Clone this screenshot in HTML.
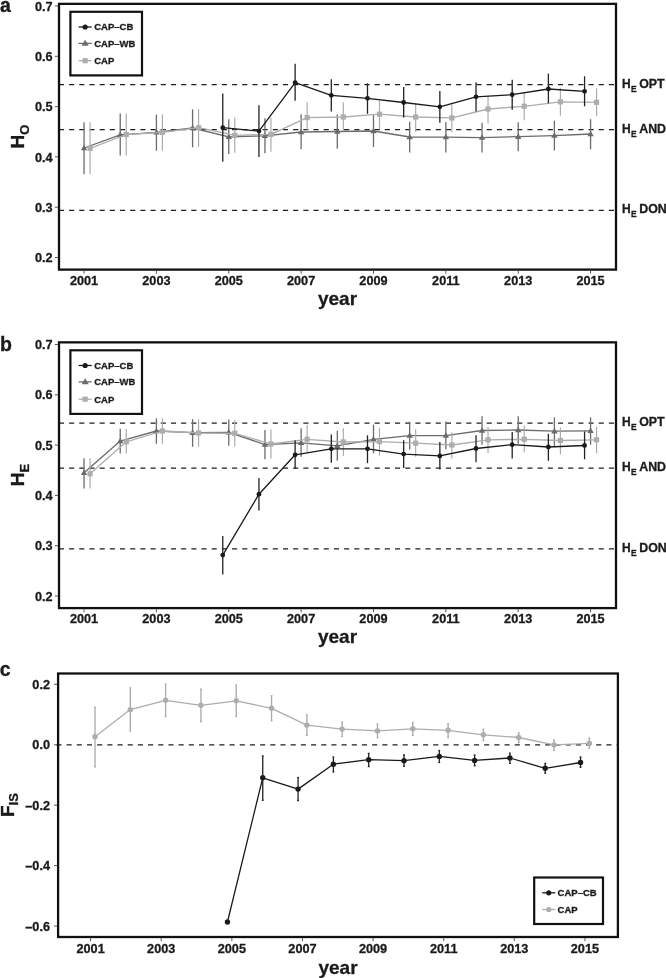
<!DOCTYPE html><html><head><meta charset="utf-8"><title>Heterozygosity chart</title><style>html,body{margin:0;padding:0;background:#fff;}svg{display:block;will-change:transform;}text{stroke:#1a1a1a;stroke-width:0.3px;}</style></head><body>
<svg width="666" height="978" viewBox="0 0 666 978" font-family='"Liberation Sans", sans-serif'>
<rect width="666" height="978" fill="#fff"/>
<line x1="58.9" y1="84.7" x2="615" y2="84.7" stroke="#1f1f1f" stroke-width="1.3" stroke-dasharray="5.1,5.085"/>
<line x1="58.9" y1="129.6" x2="615" y2="129.6" stroke="#1f1f1f" stroke-width="1.3" stroke-dasharray="5.1,5.085"/>
<line x1="58.9" y1="210.4" x2="615" y2="210.4" stroke="#1f1f1f" stroke-width="1.3" stroke-dasharray="5.1,5.085"/>
<line x1="84.05" y1="122.2" x2="84.05" y2="174.3" stroke="#6b6b6b" stroke-width="1.3"/>
<line x1="120.23" y1="113.5" x2="120.23" y2="155.6" stroke="#6b6b6b" stroke-width="1.3"/>
<line x1="156.41" y1="114.6" x2="156.41" y2="150.7" stroke="#6b6b6b" stroke-width="1.3"/>
<line x1="192.59" y1="109.3" x2="192.59" y2="147.3" stroke="#6b6b6b" stroke-width="1.3"/>
<line x1="228.77" y1="119.3" x2="228.77" y2="153.9" stroke="#6b6b6b" stroke-width="1.3"/>
<line x1="264.95" y1="118.3" x2="264.95" y2="153.3" stroke="#6b6b6b" stroke-width="1.3"/>
<line x1="301.13" y1="114.3" x2="301.13" y2="149.2" stroke="#6b6b6b" stroke-width="1.3"/>
<line x1="337.31" y1="114.6" x2="337.31" y2="148.7" stroke="#6b6b6b" stroke-width="1.3"/>
<line x1="373.49" y1="115.2" x2="373.49" y2="146.9" stroke="#6b6b6b" stroke-width="1.3"/>
<line x1="409.67" y1="121.7" x2="409.67" y2="152.5" stroke="#6b6b6b" stroke-width="1.3"/>
<line x1="445.85" y1="122" x2="445.85" y2="152.5" stroke="#6b6b6b" stroke-width="1.3"/>
<line x1="482.03" y1="122.8" x2="482.03" y2="152.5" stroke="#6b6b6b" stroke-width="1.3"/>
<line x1="518.21" y1="122.2" x2="518.21" y2="151.3" stroke="#6b6b6b" stroke-width="1.3"/>
<line x1="554.39" y1="120.8" x2="554.39" y2="150.5" stroke="#6b6b6b" stroke-width="1.3"/>
<line x1="590.57" y1="119.2" x2="590.57" y2="149.3" stroke="#6b6b6b" stroke-width="1.3"/>
<path d="M84.05,148 L120.23,134.8 L156.41,132.3 L192.59,128 L228.77,136.8 L264.95,135.9 L301.13,132 L337.31,131.5 L373.49,131 L409.67,137 L445.85,137.1 L482.03,137.6 L518.21,136.7 L554.39,135.6 L590.57,134" fill="none" stroke="#6b6b6b" stroke-width="1.3" stroke-linejoin="round"/>
<path d="M84.05,144.66 L87.24,150.18 L80.86,150.18 Z" fill="#6b6b6b"/>
<path d="M120.23,131.47 L123.42,136.98 L117.04,136.98 Z" fill="#6b6b6b"/>
<path d="M156.41,128.97 L159.6,134.48 L153.22,134.48 Z" fill="#6b6b6b"/>
<path d="M192.59,124.67 L195.78,130.18 L189.4,130.18 Z" fill="#6b6b6b"/>
<path d="M228.77,133.47 L231.96,138.98 L225.58,138.98 Z" fill="#6b6b6b"/>
<path d="M264.95,132.56 L268.14,138.08 L261.76,138.08 Z" fill="#6b6b6b"/>
<path d="M301.13,128.66 L304.32,134.18 L297.94,134.18 Z" fill="#6b6b6b"/>
<path d="M337.31,128.16 L340.5,133.68 L334.12,133.68 Z" fill="#6b6b6b"/>
<path d="M373.49,127.67 L376.68,133.18 L370.3,133.18 Z" fill="#6b6b6b"/>
<path d="M409.67,133.66 L412.86,139.18 L406.48,139.18 Z" fill="#6b6b6b"/>
<path d="M445.85,133.76 L449.04,139.28 L442.66,139.28 Z" fill="#6b6b6b"/>
<path d="M482.03,134.26 L485.22,139.78 L478.84,139.78 Z" fill="#6b6b6b"/>
<path d="M518.21,133.36 L521.4,138.88 L515.02,138.88 Z" fill="#6b6b6b"/>
<path d="M554.39,132.26 L557.58,137.78 L551.2,137.78 Z" fill="#6b6b6b"/>
<path d="M590.57,130.66 L593.76,136.18 L587.38,136.18 Z" fill="#6b6b6b"/>
<line x1="90.05" y1="122.2" x2="90.05" y2="174.3" stroke="#a9a9a9" stroke-width="1.15"/>
<line x1="126.23" y1="113.5" x2="126.23" y2="155.6" stroke="#a9a9a9" stroke-width="1.15"/>
<line x1="162.41" y1="114.6" x2="162.41" y2="150.7" stroke="#a9a9a9" stroke-width="1.15"/>
<line x1="198.59" y1="109.3" x2="198.59" y2="146.8" stroke="#a9a9a9" stroke-width="1.15"/>
<line x1="234.77" y1="117.5" x2="234.77" y2="152.8" stroke="#a9a9a9" stroke-width="1.15"/>
<line x1="270.95" y1="117.8" x2="270.95" y2="151.8" stroke="#a9a9a9" stroke-width="1.15"/>
<line x1="307.13" y1="102.3" x2="307.13" y2="132.3" stroke="#a9a9a9" stroke-width="1.15"/>
<line x1="343.31" y1="102.2" x2="343.31" y2="131.2" stroke="#a9a9a9" stroke-width="1.15"/>
<line x1="379.49" y1="100.8" x2="379.49" y2="129" stroke="#a9a9a9" stroke-width="1.15"/>
<line x1="415.67" y1="103.5" x2="415.67" y2="131.8" stroke="#a9a9a9" stroke-width="1.15"/>
<line x1="451.85" y1="104.4" x2="451.85" y2="132.6" stroke="#a9a9a9" stroke-width="1.15"/>
<line x1="488.03" y1="95.8" x2="488.03" y2="123.6" stroke="#a9a9a9" stroke-width="1.15"/>
<line x1="524.21" y1="92.8" x2="524.21" y2="120.3" stroke="#a9a9a9" stroke-width="1.15"/>
<line x1="560.39" y1="87.8" x2="560.39" y2="115.8" stroke="#a9a9a9" stroke-width="1.15"/>
<line x1="596.57" y1="88.3" x2="596.57" y2="116.1" stroke="#a9a9a9" stroke-width="1.15"/>
<path d="M90.05,148.3 L126.23,134.5 L162.41,132.3 L198.59,127.7 L234.77,135.3 L270.95,134.4 L307.13,117.6 L343.31,117 L379.49,114.2 L415.67,117 L451.85,117.9 L488.03,109 L524.21,106.3 L560.39,101.8 L596.57,102.3" fill="none" stroke="#adadad" stroke-width="1.3" stroke-linejoin="round"/>
<rect x="87.45" y="145.7" width="5.2" height="5.2" fill="#adadad"/>
<rect x="123.63" y="131.9" width="5.2" height="5.2" fill="#adadad"/>
<rect x="159.81" y="129.7" width="5.2" height="5.2" fill="#adadad"/>
<rect x="195.99" y="125.1" width="5.2" height="5.2" fill="#adadad"/>
<rect x="232.17" y="132.7" width="5.2" height="5.2" fill="#adadad"/>
<rect x="268.35" y="131.8" width="5.2" height="5.2" fill="#adadad"/>
<rect x="304.53" y="115" width="5.2" height="5.2" fill="#adadad"/>
<rect x="340.71" y="114.4" width="5.2" height="5.2" fill="#adadad"/>
<rect x="376.89" y="111.6" width="5.2" height="5.2" fill="#adadad"/>
<rect x="413.07" y="114.4" width="5.2" height="5.2" fill="#adadad"/>
<rect x="449.25" y="115.3" width="5.2" height="5.2" fill="#adadad"/>
<rect x="485.43" y="106.4" width="5.2" height="5.2" fill="#adadad"/>
<rect x="521.61" y="103.7" width="5.2" height="5.2" fill="#adadad"/>
<rect x="557.79" y="99.2" width="5.2" height="5.2" fill="#adadad"/>
<rect x="593.97" y="99.7" width="5.2" height="5.2" fill="#adadad"/>
<line x1="222.77" y1="93.5" x2="222.77" y2="161.8" stroke="#222222" stroke-width="1.3"/>
<line x1="258.95" y1="105.3" x2="258.95" y2="157" stroke="#222222" stroke-width="1.3"/>
<line x1="295.13" y1="63.8" x2="295.13" y2="100.8" stroke="#222222" stroke-width="1.3"/>
<line x1="331.31" y1="79.3" x2="331.31" y2="111.6" stroke="#222222" stroke-width="1.3"/>
<line x1="367.49" y1="83.3" x2="367.49" y2="113.8" stroke="#222222" stroke-width="1.3"/>
<line x1="403.67" y1="87" x2="403.67" y2="117.5" stroke="#222222" stroke-width="1.3"/>
<line x1="439.85" y1="90.9" x2="439.85" y2="122.8" stroke="#222222" stroke-width="1.3"/>
<line x1="476.03" y1="82.3" x2="476.03" y2="111.6" stroke="#222222" stroke-width="1.3"/>
<line x1="512.21" y1="79.7" x2="512.21" y2="109.8" stroke="#222222" stroke-width="1.3"/>
<line x1="548.39" y1="73.7" x2="548.39" y2="103.3" stroke="#222222" stroke-width="1.3"/>
<line x1="584.57" y1="76.3" x2="584.57" y2="106.3" stroke="#222222" stroke-width="1.3"/>
<path d="M222.77,127.7 L258.95,131.1 L295.13,82.6 L331.31,95.3 L367.49,98.3 L403.67,102.5 L439.85,106.8 L476.03,96.8 L512.21,94.7 L548.39,89 L584.57,91.3" fill="none" stroke="#1a1a1a" stroke-width="1.3" stroke-linejoin="round"/>
<circle cx="222.77" cy="127.7" r="2.4" fill="#1a1a1a"/>
<circle cx="258.95" cy="131.1" r="2.4" fill="#1a1a1a"/>
<circle cx="295.13" cy="82.6" r="2.4" fill="#1a1a1a"/>
<circle cx="331.31" cy="95.3" r="2.4" fill="#1a1a1a"/>
<circle cx="367.49" cy="98.3" r="2.4" fill="#1a1a1a"/>
<circle cx="403.67" cy="102.5" r="2.4" fill="#1a1a1a"/>
<circle cx="439.85" cy="106.8" r="2.4" fill="#1a1a1a"/>
<circle cx="476.03" cy="96.8" r="2.4" fill="#1a1a1a"/>
<circle cx="512.21" cy="94.7" r="2.4" fill="#1a1a1a"/>
<circle cx="548.39" cy="89" r="2.4" fill="#1a1a1a"/>
<circle cx="584.57" cy="91.3" r="2.4" fill="#1a1a1a"/>
<rect x="70.4" y="11.8" width="71.6" height="63.6" fill="none" stroke="#111" stroke-width="2.2"/>
<line x1="78.6" y1="27" x2="91.7" y2="27" stroke="#1a1a1a" stroke-width="1.3"/>
<circle cx="85.15" cy="27" r="2.6" fill="#1a1a1a"/>
<text x="94.2" y="30.3" font-size="9.5" font-weight="bold" text-anchor="start" fill="#1a1a1a" >CAP–CB</text>
<line x1="78.6" y1="43.4" x2="91.7" y2="43.4" stroke="#6b6b6b" stroke-width="1.3"/>
<path d="M85.15,39.72 L88.67,45.8 L81.63,45.8 Z" fill="#6b6b6b"/>
<text x="94.2" y="46.7" font-size="9.5" font-weight="bold" text-anchor="start" fill="#1a1a1a" >CAP–WB</text>
<line x1="78.6" y1="60.7" x2="91.7" y2="60.7" stroke="#adadad" stroke-width="1.3"/>
<rect x="82.55" y="58.1" width="5.2" height="5.2" fill="#adadad"/>
<text x="94.2" y="64" font-size="9.5" font-weight="bold" text-anchor="start" fill="#1a1a1a" >CAP</text>
<rect x="59" y="3.85" width="557" height="265.75" fill="none" stroke="#111" stroke-width="2.3"/>
<line x1="54.9" y1="6" x2="57.9" y2="6" stroke="#555" stroke-width="1"/>
<text x="52.6" y="10.6" font-size="12.7" font-weight="bold" text-anchor="end" fill="#1a1a1a" >0.7</text>
<line x1="54.9" y1="56.3" x2="57.9" y2="56.3" stroke="#555" stroke-width="1"/>
<text x="52.6" y="60.9" font-size="12.7" font-weight="bold" text-anchor="end" fill="#1a1a1a" >0.6</text>
<line x1="54.9" y1="106.6" x2="57.9" y2="106.6" stroke="#555" stroke-width="1"/>
<text x="52.6" y="111.2" font-size="12.7" font-weight="bold" text-anchor="end" fill="#1a1a1a" >0.5</text>
<line x1="54.9" y1="156.9" x2="57.9" y2="156.9" stroke="#555" stroke-width="1"/>
<text x="52.6" y="161.5" font-size="12.7" font-weight="bold" text-anchor="end" fill="#1a1a1a" >0.4</text>
<line x1="54.9" y1="207.2" x2="57.9" y2="207.2" stroke="#555" stroke-width="1"/>
<text x="52.6" y="211.8" font-size="12.7" font-weight="bold" text-anchor="end" fill="#1a1a1a" >0.3</text>
<line x1="54.9" y1="257.5" x2="57.9" y2="257.5" stroke="#555" stroke-width="1"/>
<text x="52.6" y="262.1" font-size="12.7" font-weight="bold" text-anchor="end" fill="#1a1a1a" >0.2</text>
<line x1="84.05" y1="270.7" x2="84.05" y2="273.7" stroke="#555" stroke-width="1"/>
<text x="84.05" y="284.8" font-size="12.7" font-weight="bold" text-anchor="middle" fill="#1a1a1a" >2001</text>
<line x1="156.41" y1="270.7" x2="156.41" y2="273.7" stroke="#555" stroke-width="1"/>
<text x="156.41" y="284.8" font-size="12.7" font-weight="bold" text-anchor="middle" fill="#1a1a1a" >2003</text>
<line x1="228.77" y1="270.7" x2="228.77" y2="273.7" stroke="#555" stroke-width="1"/>
<text x="228.77" y="284.8" font-size="12.7" font-weight="bold" text-anchor="middle" fill="#1a1a1a" >2005</text>
<line x1="301.13" y1="270.7" x2="301.13" y2="273.7" stroke="#555" stroke-width="1"/>
<text x="301.13" y="284.8" font-size="12.7" font-weight="bold" text-anchor="middle" fill="#1a1a1a" >2007</text>
<line x1="373.49" y1="270.7" x2="373.49" y2="273.7" stroke="#555" stroke-width="1"/>
<text x="373.49" y="284.8" font-size="12.7" font-weight="bold" text-anchor="middle" fill="#1a1a1a" >2009</text>
<line x1="445.85" y1="270.7" x2="445.85" y2="273.7" stroke="#555" stroke-width="1"/>
<text x="445.85" y="284.8" font-size="12.7" font-weight="bold" text-anchor="middle" fill="#1a1a1a" >2011</text>
<line x1="518.21" y1="270.7" x2="518.21" y2="273.7" stroke="#555" stroke-width="1"/>
<text x="518.21" y="284.8" font-size="12.7" font-weight="bold" text-anchor="middle" fill="#1a1a1a" >2013</text>
<line x1="590.57" y1="270.7" x2="590.57" y2="273.7" stroke="#555" stroke-width="1"/>
<text x="590.57" y="284.8" font-size="12.7" font-weight="bold" text-anchor="middle" fill="#1a1a1a" >2015</text>
<text x="337.5" y="304.8" font-size="19" font-weight="bold" text-anchor="middle" fill="#1a1a1a" >year</text>
<text x="622.0" y="87.7" font-size="12" font-weight="bold" fill="#1a1a1a">H</text>
<text x="630.9" y="91.9" font-size="8.4" font-weight="bold" fill="#1a1a1a">E</text>
<text x="639.2" y="87.7" font-size="12.4" font-weight="bold" fill="#1a1a1a">OPT</text>
<text x="622.0" y="132.7" font-size="12" font-weight="bold" fill="#1a1a1a">H</text>
<text x="630.9" y="136.9" font-size="8.4" font-weight="bold" fill="#1a1a1a">E</text>
<text x="639.2" y="132.7" font-size="12.4" font-weight="bold" fill="#1a1a1a">AND</text>
<text x="622.0" y="213.2" font-size="12" font-weight="bold" fill="#1a1a1a">H</text>
<text x="630.9" y="217.4" font-size="8.4" font-weight="bold" fill="#1a1a1a">E</text>
<text x="639.2" y="213.2" font-size="12.4" font-weight="bold" fill="#1a1a1a">DON</text>
<text transform="translate(24.4,136.6) rotate(-90)" font-size="19" font-weight="bold" text-anchor="middle" fill="#1a1a1a">H<tspan font-size="13" dy="4.4">O</tspan></text>
<line x1="58.9" y1="423.2" x2="615" y2="423.2" stroke="#1f1f1f" stroke-width="1.3" stroke-dasharray="5.1,5.085"/>
<line x1="58.9" y1="468.1" x2="615" y2="468.1" stroke="#1f1f1f" stroke-width="1.3" stroke-dasharray="5.1,5.085"/>
<line x1="58.9" y1="548.9" x2="615" y2="548.9" stroke="#1f1f1f" stroke-width="1.3" stroke-dasharray="5.1,5.085"/>
<line x1="84.05" y1="458.3" x2="84.05" y2="488.4" stroke="#6b6b6b" stroke-width="1.3"/>
<line x1="120.23" y1="428.8" x2="120.23" y2="453.5" stroke="#6b6b6b" stroke-width="1.3"/>
<line x1="156.41" y1="418.3" x2="156.41" y2="443.8" stroke="#6b6b6b" stroke-width="1.3"/>
<line x1="192.59" y1="419.2" x2="192.59" y2="446.8" stroke="#6b6b6b" stroke-width="1.3"/>
<line x1="228.77" y1="419.5" x2="228.77" y2="445.8" stroke="#6b6b6b" stroke-width="1.3"/>
<line x1="264.95" y1="430" x2="264.95" y2="459.3" stroke="#6b6b6b" stroke-width="1.3"/>
<line x1="301.13" y1="428.2" x2="301.13" y2="456.8" stroke="#6b6b6b" stroke-width="1.3"/>
<line x1="337.31" y1="430.8" x2="337.31" y2="460.8" stroke="#6b6b6b" stroke-width="1.3"/>
<line x1="373.49" y1="424.8" x2="373.49" y2="453.3" stroke="#6b6b6b" stroke-width="1.3"/>
<line x1="409.67" y1="421.8" x2="409.67" y2="449.5" stroke="#6b6b6b" stroke-width="1.3"/>
<line x1="445.85" y1="421.5" x2="445.85" y2="449.2" stroke="#6b6b6b" stroke-width="1.3"/>
<line x1="482.03" y1="416.2" x2="482.03" y2="444.7" stroke="#6b6b6b" stroke-width="1.3"/>
<line x1="518.21" y1="416.2" x2="518.21" y2="443.8" stroke="#6b6b6b" stroke-width="1.3"/>
<line x1="554.39" y1="417.3" x2="554.39" y2="445.8" stroke="#6b6b6b" stroke-width="1.3"/>
<line x1="590.57" y1="417.3" x2="590.57" y2="444.7" stroke="#6b6b6b" stroke-width="1.3"/>
<path d="M84.05,472.8 L120.23,441.1 L156.41,431 L192.59,432.7 L228.77,432.3 L264.95,444.6 L301.13,442.8 L337.31,445.8 L373.49,439.3 L409.67,435.6 L445.85,435.6 L482.03,430.5 L518.21,430 L554.39,431.2 L590.57,430.8" fill="none" stroke="#6b6b6b" stroke-width="1.3" stroke-linejoin="round"/>
<path d="M84.05,469.47 L87.24,474.98 L80.86,474.98 Z" fill="#6b6b6b"/>
<path d="M120.23,437.77 L123.42,443.28 L117.04,443.28 Z" fill="#6b6b6b"/>
<path d="M156.41,427.67 L159.6,433.18 L153.22,433.18 Z" fill="#6b6b6b"/>
<path d="M192.59,429.37 L195.78,434.88 L189.4,434.88 Z" fill="#6b6b6b"/>
<path d="M228.77,428.97 L231.96,434.48 L225.58,434.48 Z" fill="#6b6b6b"/>
<path d="M264.95,441.27 L268.14,446.78 L261.76,446.78 Z" fill="#6b6b6b"/>
<path d="M301.13,439.47 L304.32,444.98 L297.94,444.98 Z" fill="#6b6b6b"/>
<path d="M337.31,442.47 L340.5,447.98 L334.12,447.98 Z" fill="#6b6b6b"/>
<path d="M373.49,435.97 L376.68,441.48 L370.3,441.48 Z" fill="#6b6b6b"/>
<path d="M409.67,432.27 L412.86,437.78 L406.48,437.78 Z" fill="#6b6b6b"/>
<path d="M445.85,432.27 L449.04,437.78 L442.66,437.78 Z" fill="#6b6b6b"/>
<path d="M482.03,427.17 L485.22,432.68 L478.84,432.68 Z" fill="#6b6b6b"/>
<path d="M518.21,426.67 L521.4,432.18 L515.02,432.18 Z" fill="#6b6b6b"/>
<path d="M554.39,427.87 L557.58,433.38 L551.2,433.38 Z" fill="#6b6b6b"/>
<path d="M590.57,427.47 L593.76,432.98 L587.38,432.98 Z" fill="#6b6b6b"/>
<line x1="90.05" y1="458.3" x2="90.05" y2="488.4" stroke="#a9a9a9" stroke-width="1.15"/>
<line x1="126.23" y1="428.8" x2="126.23" y2="453.5" stroke="#a9a9a9" stroke-width="1.15"/>
<line x1="162.41" y1="418.3" x2="162.41" y2="443.8" stroke="#a9a9a9" stroke-width="1.15"/>
<line x1="198.59" y1="419.2" x2="198.59" y2="446.8" stroke="#a9a9a9" stroke-width="1.15"/>
<line x1="234.77" y1="420.3" x2="234.77" y2="446.5" stroke="#a9a9a9" stroke-width="1.15"/>
<line x1="270.95" y1="429.6" x2="270.95" y2="458.6" stroke="#a9a9a9" stroke-width="1.15"/>
<line x1="307.13" y1="424.8" x2="307.13" y2="452.6" stroke="#a9a9a9" stroke-width="1.15"/>
<line x1="343.31" y1="428.2" x2="343.31" y2="455.9" stroke="#a9a9a9" stroke-width="1.15"/>
<line x1="379.49" y1="427.8" x2="379.49" y2="455.6" stroke="#a9a9a9" stroke-width="1.15"/>
<line x1="415.67" y1="429.3" x2="415.67" y2="456.8" stroke="#a9a9a9" stroke-width="1.15"/>
<line x1="451.85" y1="432.3" x2="451.85" y2="458.6" stroke="#a9a9a9" stroke-width="1.15"/>
<line x1="488.03" y1="427" x2="488.03" y2="452.9" stroke="#a9a9a9" stroke-width="1.15"/>
<line x1="524.21" y1="425.5" x2="524.21" y2="452.6" stroke="#a9a9a9" stroke-width="1.15"/>
<line x1="560.39" y1="427.5" x2="560.39" y2="454.4" stroke="#a9a9a9" stroke-width="1.15"/>
<line x1="596.57" y1="426.7" x2="596.57" y2="453.3" stroke="#a9a9a9" stroke-width="1.15"/>
<path d="M90.05,473.8 L126.23,441.8 L162.41,431 L198.59,433 L234.77,433.3 L270.95,444 L307.13,439.3 L343.31,442 L379.49,441.6 L415.67,443.2 L451.85,445 L488.03,439.8 L524.21,439.3 L560.39,440.5 L596.57,439.8" fill="none" stroke="#adadad" stroke-width="1.3" stroke-linejoin="round"/>
<rect x="87.45" y="471.2" width="5.2" height="5.2" fill="#adadad"/>
<rect x="123.63" y="439.2" width="5.2" height="5.2" fill="#adadad"/>
<rect x="159.81" y="428.4" width="5.2" height="5.2" fill="#adadad"/>
<rect x="195.99" y="430.4" width="5.2" height="5.2" fill="#adadad"/>
<rect x="232.17" y="430.7" width="5.2" height="5.2" fill="#adadad"/>
<rect x="268.35" y="441.4" width="5.2" height="5.2" fill="#adadad"/>
<rect x="304.53" y="436.7" width="5.2" height="5.2" fill="#adadad"/>
<rect x="340.71" y="439.4" width="5.2" height="5.2" fill="#adadad"/>
<rect x="376.89" y="439" width="5.2" height="5.2" fill="#adadad"/>
<rect x="413.07" y="440.6" width="5.2" height="5.2" fill="#adadad"/>
<rect x="449.25" y="442.4" width="5.2" height="5.2" fill="#adadad"/>
<rect x="485.43" y="437.2" width="5.2" height="5.2" fill="#adadad"/>
<rect x="521.61" y="436.7" width="5.2" height="5.2" fill="#adadad"/>
<rect x="557.79" y="437.9" width="5.2" height="5.2" fill="#adadad"/>
<rect x="593.97" y="437.2" width="5.2" height="5.2" fill="#adadad"/>
<line x1="222.77" y1="536" x2="222.77" y2="574.4" stroke="#222222" stroke-width="1.3"/>
<line x1="258.95" y1="478" x2="258.95" y2="510.5" stroke="#222222" stroke-width="1.3"/>
<line x1="295.13" y1="440.2" x2="295.13" y2="468.8" stroke="#222222" stroke-width="1.3"/>
<line x1="331.31" y1="434.5" x2="331.31" y2="462.8" stroke="#222222" stroke-width="1.3"/>
<line x1="367.49" y1="435.3" x2="367.49" y2="463.1" stroke="#222222" stroke-width="1.3"/>
<line x1="403.67" y1="440.2" x2="403.67" y2="467.9" stroke="#222222" stroke-width="1.3"/>
<line x1="439.85" y1="442" x2="439.85" y2="469.4" stroke="#222222" stroke-width="1.3"/>
<line x1="476.03" y1="435.3" x2="476.03" y2="462.3" stroke="#222222" stroke-width="1.3"/>
<line x1="512.21" y1="432" x2="512.21" y2="458.6" stroke="#222222" stroke-width="1.3"/>
<line x1="548.39" y1="433.8" x2="548.39" y2="460.8" stroke="#222222" stroke-width="1.3"/>
<line x1="584.57" y1="431.5" x2="584.57" y2="459.3" stroke="#222222" stroke-width="1.3"/>
<path d="M222.77,555.1 L258.95,494.2 L295.13,454.8 L331.31,448.8 L367.49,448.8 L403.67,454.1 L439.85,455.9 L476.03,448.5 L512.21,444.7 L548.39,447 L584.57,445.5" fill="none" stroke="#1a1a1a" stroke-width="1.3" stroke-linejoin="round"/>
<circle cx="222.77" cy="555.1" r="2.4" fill="#1a1a1a"/>
<circle cx="258.95" cy="494.2" r="2.4" fill="#1a1a1a"/>
<circle cx="295.13" cy="454.8" r="2.4" fill="#1a1a1a"/>
<circle cx="331.31" cy="448.8" r="2.4" fill="#1a1a1a"/>
<circle cx="367.49" cy="448.8" r="2.4" fill="#1a1a1a"/>
<circle cx="403.67" cy="454.1" r="2.4" fill="#1a1a1a"/>
<circle cx="439.85" cy="455.9" r="2.4" fill="#1a1a1a"/>
<circle cx="476.03" cy="448.5" r="2.4" fill="#1a1a1a"/>
<circle cx="512.21" cy="444.7" r="2.4" fill="#1a1a1a"/>
<circle cx="548.39" cy="447" r="2.4" fill="#1a1a1a"/>
<circle cx="584.57" cy="445.5" r="2.4" fill="#1a1a1a"/>
<rect x="70.4" y="350.3" width="71.6" height="63.6" fill="none" stroke="#111" stroke-width="2.2"/>
<line x1="78.6" y1="365.5" x2="91.7" y2="365.5" stroke="#1a1a1a" stroke-width="1.3"/>
<circle cx="85.15" cy="365.5" r="2.6" fill="#1a1a1a"/>
<text x="94.2" y="368.8" font-size="9.5" font-weight="bold" text-anchor="start" fill="#1a1a1a" >CAP–CB</text>
<line x1="78.6" y1="381.9" x2="91.7" y2="381.9" stroke="#6b6b6b" stroke-width="1.3"/>
<path d="M85.15,378.22 L88.67,384.3 L81.63,384.3 Z" fill="#6b6b6b"/>
<text x="94.2" y="385.2" font-size="9.5" font-weight="bold" text-anchor="start" fill="#1a1a1a" >CAP–WB</text>
<line x1="78.6" y1="399.2" x2="91.7" y2="399.2" stroke="#adadad" stroke-width="1.3"/>
<rect x="82.55" y="396.6" width="5.2" height="5.2" fill="#adadad"/>
<text x="94.2" y="402.5" font-size="9.5" font-weight="bold" text-anchor="start" fill="#1a1a1a" >CAP</text>
<rect x="59" y="342.35" width="557" height="265.75" fill="none" stroke="#111" stroke-width="2.3"/>
<line x1="54.9" y1="344.5" x2="57.9" y2="344.5" stroke="#555" stroke-width="1"/>
<text x="52.6" y="349.1" font-size="12.7" font-weight="bold" text-anchor="end" fill="#1a1a1a" >0.7</text>
<line x1="54.9" y1="394.8" x2="57.9" y2="394.8" stroke="#555" stroke-width="1"/>
<text x="52.6" y="399.4" font-size="12.7" font-weight="bold" text-anchor="end" fill="#1a1a1a" >0.6</text>
<line x1="54.9" y1="445.1" x2="57.9" y2="445.1" stroke="#555" stroke-width="1"/>
<text x="52.6" y="449.7" font-size="12.7" font-weight="bold" text-anchor="end" fill="#1a1a1a" >0.5</text>
<line x1="54.9" y1="495.4" x2="57.9" y2="495.4" stroke="#555" stroke-width="1"/>
<text x="52.6" y="500" font-size="12.7" font-weight="bold" text-anchor="end" fill="#1a1a1a" >0.4</text>
<line x1="54.9" y1="545.7" x2="57.9" y2="545.7" stroke="#555" stroke-width="1"/>
<text x="52.6" y="550.3" font-size="12.7" font-weight="bold" text-anchor="end" fill="#1a1a1a" >0.3</text>
<line x1="54.9" y1="596" x2="57.9" y2="596" stroke="#555" stroke-width="1"/>
<text x="52.6" y="600.6" font-size="12.7" font-weight="bold" text-anchor="end" fill="#1a1a1a" >0.2</text>
<line x1="84.05" y1="609.2" x2="84.05" y2="612.2" stroke="#555" stroke-width="1"/>
<text x="84.05" y="623.3" font-size="12.7" font-weight="bold" text-anchor="middle" fill="#1a1a1a" >2001</text>
<line x1="156.41" y1="609.2" x2="156.41" y2="612.2" stroke="#555" stroke-width="1"/>
<text x="156.41" y="623.3" font-size="12.7" font-weight="bold" text-anchor="middle" fill="#1a1a1a" >2003</text>
<line x1="228.77" y1="609.2" x2="228.77" y2="612.2" stroke="#555" stroke-width="1"/>
<text x="228.77" y="623.3" font-size="12.7" font-weight="bold" text-anchor="middle" fill="#1a1a1a" >2005</text>
<line x1="301.13" y1="609.2" x2="301.13" y2="612.2" stroke="#555" stroke-width="1"/>
<text x="301.13" y="623.3" font-size="12.7" font-weight="bold" text-anchor="middle" fill="#1a1a1a" >2007</text>
<line x1="373.49" y1="609.2" x2="373.49" y2="612.2" stroke="#555" stroke-width="1"/>
<text x="373.49" y="623.3" font-size="12.7" font-weight="bold" text-anchor="middle" fill="#1a1a1a" >2009</text>
<line x1="445.85" y1="609.2" x2="445.85" y2="612.2" stroke="#555" stroke-width="1"/>
<text x="445.85" y="623.3" font-size="12.7" font-weight="bold" text-anchor="middle" fill="#1a1a1a" >2011</text>
<line x1="518.21" y1="609.2" x2="518.21" y2="612.2" stroke="#555" stroke-width="1"/>
<text x="518.21" y="623.3" font-size="12.7" font-weight="bold" text-anchor="middle" fill="#1a1a1a" >2013</text>
<line x1="590.57" y1="609.2" x2="590.57" y2="612.2" stroke="#555" stroke-width="1"/>
<text x="590.57" y="623.3" font-size="12.7" font-weight="bold" text-anchor="middle" fill="#1a1a1a" >2015</text>
<text x="337.5" y="643.3" font-size="19" font-weight="bold" text-anchor="middle" fill="#1a1a1a" >year</text>
<text x="622.0" y="426.2" font-size="12" font-weight="bold" fill="#1a1a1a">H</text>
<text x="630.9" y="430.4" font-size="8.4" font-weight="bold" fill="#1a1a1a">E</text>
<text x="639.2" y="426.2" font-size="12.4" font-weight="bold" fill="#1a1a1a">OPT</text>
<text x="622.0" y="471.2" font-size="12" font-weight="bold" fill="#1a1a1a">H</text>
<text x="630.9" y="475.4" font-size="8.4" font-weight="bold" fill="#1a1a1a">E</text>
<text x="639.2" y="471.2" font-size="12.4" font-weight="bold" fill="#1a1a1a">AND</text>
<text x="622.0" y="551.7" font-size="12" font-weight="bold" fill="#1a1a1a">H</text>
<text x="630.9" y="555.9" font-size="8.4" font-weight="bold" fill="#1a1a1a">E</text>
<text x="639.2" y="551.7" font-size="12.4" font-weight="bold" fill="#1a1a1a">DON</text>
<text transform="translate(24.4,475.1) rotate(-90)" font-size="19" font-weight="bold" text-anchor="middle" fill="#1a1a1a">H<tspan font-size="13" dy="4.4">E</tspan></text>
<text x="0" y="11.5" font-size="19.5" font-weight="bold" text-anchor="start" fill="#1a1a1a" >a</text>
<text x="0" y="350.8" font-size="19.5" font-weight="bold" text-anchor="start" fill="#1a1a1a" >b</text>
<text x="-0.3" y="675.7" font-size="19.5" font-weight="bold" text-anchor="start" fill="#1a1a1a" >c</text>
<line x1="56.4" y1="744.8" x2="616.9" y2="744.8" stroke="#1f1f1f" stroke-width="1.3" stroke-dasharray="5.1,5.085"/>
<line x1="95" y1="707.3" x2="95" y2="766.8" stroke="#a9a9a9" stroke-width="1.3"/>
<line x1="94.1" y1="707.3" x2="95.9" y2="707.3" stroke="#a9a9a9" stroke-width="1.3"/>
<line x1="94.1" y1="766.8" x2="95.9" y2="766.8" stroke="#a9a9a9" stroke-width="1.3"/>
<line x1="130.31" y1="687.8" x2="130.31" y2="731" stroke="#a9a9a9" stroke-width="1.3"/>
<line x1="129.41" y1="687.8" x2="131.21" y2="687.8" stroke="#a9a9a9" stroke-width="1.3"/>
<line x1="129.41" y1="731" x2="131.21" y2="731" stroke="#a9a9a9" stroke-width="1.3"/>
<line x1="165.62" y1="684.2" x2="165.62" y2="716.5" stroke="#a9a9a9" stroke-width="1.3"/>
<line x1="164.72" y1="684.2" x2="166.52" y2="684.2" stroke="#a9a9a9" stroke-width="1.3"/>
<line x1="164.72" y1="716.5" x2="166.52" y2="716.5" stroke="#a9a9a9" stroke-width="1.3"/>
<line x1="200.93" y1="689.2" x2="200.93" y2="721.5" stroke="#a9a9a9" stroke-width="1.3"/>
<line x1="200.03" y1="689.2" x2="201.83" y2="689.2" stroke="#a9a9a9" stroke-width="1.3"/>
<line x1="200.03" y1="721.5" x2="201.83" y2="721.5" stroke="#a9a9a9" stroke-width="1.3"/>
<line x1="236.24" y1="685" x2="236.24" y2="716.5" stroke="#a9a9a9" stroke-width="1.3"/>
<line x1="235.34" y1="685" x2="237.14" y2="685" stroke="#a9a9a9" stroke-width="1.3"/>
<line x1="235.34" y1="716.5" x2="237.14" y2="716.5" stroke="#a9a9a9" stroke-width="1.3"/>
<line x1="271.55" y1="695.8" x2="271.55" y2="720.8" stroke="#a9a9a9" stroke-width="1.3"/>
<line x1="270.65" y1="695.8" x2="272.45" y2="695.8" stroke="#a9a9a9" stroke-width="1.3"/>
<line x1="270.65" y1="720.8" x2="272.45" y2="720.8" stroke="#a9a9a9" stroke-width="1.3"/>
<line x1="306.86" y1="714.9" x2="306.86" y2="735.4" stroke="#a9a9a9" stroke-width="1.3"/>
<line x1="305.96" y1="714.9" x2="307.76" y2="714.9" stroke="#a9a9a9" stroke-width="1.3"/>
<line x1="305.96" y1="735.4" x2="307.76" y2="735.4" stroke="#a9a9a9" stroke-width="1.3"/>
<line x1="342.17" y1="722.1" x2="342.17" y2="736.5" stroke="#a9a9a9" stroke-width="1.3"/>
<line x1="341.27" y1="722.1" x2="343.07" y2="722.1" stroke="#a9a9a9" stroke-width="1.3"/>
<line x1="341.27" y1="736.5" x2="343.07" y2="736.5" stroke="#a9a9a9" stroke-width="1.3"/>
<line x1="377.48" y1="723.9" x2="377.48" y2="737.7" stroke="#a9a9a9" stroke-width="1.3"/>
<line x1="376.58" y1="723.9" x2="378.38" y2="723.9" stroke="#a9a9a9" stroke-width="1.3"/>
<line x1="376.58" y1="737.7" x2="378.38" y2="737.7" stroke="#a9a9a9" stroke-width="1.3"/>
<line x1="412.79" y1="722.5" x2="412.79" y2="735.5" stroke="#a9a9a9" stroke-width="1.3"/>
<line x1="411.89" y1="722.5" x2="413.69" y2="722.5" stroke="#a9a9a9" stroke-width="1.3"/>
<line x1="411.89" y1="735.5" x2="413.69" y2="735.5" stroke="#a9a9a9" stroke-width="1.3"/>
<line x1="448.1" y1="724" x2="448.1" y2="737.5" stroke="#a9a9a9" stroke-width="1.3"/>
<line x1="447.2" y1="724" x2="449" y2="724" stroke="#a9a9a9" stroke-width="1.3"/>
<line x1="447.2" y1="737.5" x2="449" y2="737.5" stroke="#a9a9a9" stroke-width="1.3"/>
<line x1="483.41" y1="729.2" x2="483.41" y2="740.5" stroke="#a9a9a9" stroke-width="1.3"/>
<line x1="482.51" y1="729.2" x2="484.31" y2="729.2" stroke="#a9a9a9" stroke-width="1.3"/>
<line x1="482.51" y1="740.5" x2="484.31" y2="740.5" stroke="#a9a9a9" stroke-width="1.3"/>
<line x1="518.72" y1="732.8" x2="518.72" y2="742.6" stroke="#a9a9a9" stroke-width="1.3"/>
<line x1="517.82" y1="732.8" x2="519.62" y2="732.8" stroke="#a9a9a9" stroke-width="1.3"/>
<line x1="517.82" y1="742.6" x2="519.62" y2="742.6" stroke="#a9a9a9" stroke-width="1.3"/>
<line x1="554.03" y1="740" x2="554.03" y2="750.4" stroke="#a9a9a9" stroke-width="1.3"/>
<line x1="553.13" y1="740" x2="554.93" y2="740" stroke="#a9a9a9" stroke-width="1.3"/>
<line x1="553.13" y1="750.4" x2="554.93" y2="750.4" stroke="#a9a9a9" stroke-width="1.3"/>
<line x1="589.34" y1="738" x2="589.34" y2="748.4" stroke="#a9a9a9" stroke-width="1.3"/>
<line x1="588.44" y1="738" x2="590.24" y2="738" stroke="#a9a9a9" stroke-width="1.3"/>
<line x1="588.44" y1="748.4" x2="590.24" y2="748.4" stroke="#a9a9a9" stroke-width="1.3"/>
<path d="M95,736.8 L130.31,709.6 L165.62,700.3 L200.93,705.3 L236.24,700.8 L271.55,708.3 L306.86,725.1 L342.17,729.1 L377.48,730.9 L412.79,728.8 L448.1,730.3 L483.41,734.8 L518.72,737.5 L554.03,744.9 L589.34,743.3" fill="none" stroke="#adadad" stroke-width="1.3" stroke-linejoin="round"/>
<circle cx="95" cy="736.8" r="2.7" fill="#adadad"/>
<circle cx="130.31" cy="709.6" r="2.7" fill="#adadad"/>
<circle cx="165.62" cy="700.3" r="2.7" fill="#adadad"/>
<circle cx="200.93" cy="705.3" r="2.7" fill="#adadad"/>
<circle cx="236.24" cy="700.8" r="2.7" fill="#adadad"/>
<circle cx="271.55" cy="708.3" r="2.7" fill="#adadad"/>
<circle cx="306.86" cy="725.1" r="2.7" fill="#adadad"/>
<circle cx="342.17" cy="729.1" r="2.7" fill="#adadad"/>
<circle cx="377.48" cy="730.9" r="2.7" fill="#adadad"/>
<circle cx="412.79" cy="728.8" r="2.7" fill="#adadad"/>
<circle cx="448.1" cy="730.3" r="2.7" fill="#adadad"/>
<circle cx="483.41" cy="734.8" r="2.7" fill="#adadad"/>
<circle cx="518.72" cy="737.5" r="2.7" fill="#adadad"/>
<circle cx="554.03" cy="744.9" r="2.7" fill="#adadad"/>
<circle cx="589.34" cy="743.3" r="2.7" fill="#adadad"/>
<line x1="262.75" y1="756" x2="262.75" y2="800.3" stroke="#222222" stroke-width="1.3"/>
<line x1="261.85" y1="756" x2="263.65" y2="756" stroke="#222222" stroke-width="1.3"/>
<line x1="261.85" y1="800.3" x2="263.65" y2="800.3" stroke="#222222" stroke-width="1.3"/>
<line x1="298.06" y1="777.6" x2="298.06" y2="800.5" stroke="#222222" stroke-width="1.3"/>
<line x1="297.16" y1="777.6" x2="298.96" y2="777.6" stroke="#222222" stroke-width="1.3"/>
<line x1="297.16" y1="800.5" x2="298.96" y2="800.5" stroke="#222222" stroke-width="1.3"/>
<line x1="333.37" y1="757" x2="333.37" y2="772" stroke="#222222" stroke-width="1.3"/>
<line x1="332.47" y1="757" x2="334.27" y2="757" stroke="#222222" stroke-width="1.3"/>
<line x1="332.47" y1="772" x2="334.27" y2="772" stroke="#222222" stroke-width="1.3"/>
<line x1="368.68" y1="753.4" x2="368.68" y2="766.6" stroke="#222222" stroke-width="1.3"/>
<line x1="367.78" y1="753.4" x2="369.58" y2="753.4" stroke="#222222" stroke-width="1.3"/>
<line x1="367.78" y1="766.6" x2="369.58" y2="766.6" stroke="#222222" stroke-width="1.3"/>
<line x1="403.99" y1="755" x2="403.99" y2="766.3" stroke="#222222" stroke-width="1.3"/>
<line x1="403.09" y1="755" x2="404.89" y2="755" stroke="#222222" stroke-width="1.3"/>
<line x1="403.09" y1="766.3" x2="404.89" y2="766.3" stroke="#222222" stroke-width="1.3"/>
<line x1="439.3" y1="750.5" x2="439.3" y2="762.5" stroke="#222222" stroke-width="1.3"/>
<line x1="438.4" y1="750.5" x2="440.2" y2="750.5" stroke="#222222" stroke-width="1.3"/>
<line x1="438.4" y1="762.5" x2="440.2" y2="762.5" stroke="#222222" stroke-width="1.3"/>
<line x1="474.61" y1="755" x2="474.61" y2="765.8" stroke="#222222" stroke-width="1.3"/>
<line x1="473.71" y1="755" x2="475.51" y2="755" stroke="#222222" stroke-width="1.3"/>
<line x1="473.71" y1="765.8" x2="475.51" y2="765.8" stroke="#222222" stroke-width="1.3"/>
<line x1="509.92" y1="753.1" x2="509.92" y2="763.4" stroke="#222222" stroke-width="1.3"/>
<line x1="509.02" y1="753.1" x2="510.82" y2="753.1" stroke="#222222" stroke-width="1.3"/>
<line x1="509.02" y1="763.4" x2="510.82" y2="763.4" stroke="#222222" stroke-width="1.3"/>
<line x1="545.23" y1="763.4" x2="545.23" y2="773.2" stroke="#222222" stroke-width="1.3"/>
<line x1="544.33" y1="763.4" x2="546.13" y2="763.4" stroke="#222222" stroke-width="1.3"/>
<line x1="544.33" y1="773.2" x2="546.13" y2="773.2" stroke="#222222" stroke-width="1.3"/>
<line x1="580.54" y1="757" x2="580.54" y2="767.3" stroke="#222222" stroke-width="1.3"/>
<line x1="579.64" y1="757" x2="581.44" y2="757" stroke="#222222" stroke-width="1.3"/>
<line x1="579.64" y1="767.3" x2="581.44" y2="767.3" stroke="#222222" stroke-width="1.3"/>
<path d="M227.44,922 L262.75,777.8 L298.06,789.1 L333.37,764.2 L368.68,759.7 L403.99,760.7 L439.3,756.4 L474.61,760.4 L509.92,758 L545.23,768.3 L580.54,762.5" fill="none" stroke="#1a1a1a" stroke-width="1.3" stroke-linejoin="round"/>
<circle cx="227.44" cy="922" r="2.7" fill="#1a1a1a"/>
<circle cx="262.75" cy="777.8" r="2.7" fill="#1a1a1a"/>
<circle cx="298.06" cy="789.1" r="2.7" fill="#1a1a1a"/>
<circle cx="333.37" cy="764.2" r="2.7" fill="#1a1a1a"/>
<circle cx="368.68" cy="759.7" r="2.7" fill="#1a1a1a"/>
<circle cx="403.99" cy="760.7" r="2.7" fill="#1a1a1a"/>
<circle cx="439.3" cy="756.4" r="2.7" fill="#1a1a1a"/>
<circle cx="474.61" cy="760.4" r="2.7" fill="#1a1a1a"/>
<circle cx="509.92" cy="758" r="2.7" fill="#1a1a1a"/>
<circle cx="545.23" cy="768.3" r="2.7" fill="#1a1a1a"/>
<circle cx="580.54" cy="762.5" r="2.7" fill="#1a1a1a"/>
<rect x="534.2" y="877.5" width="68.8" height="46.5" fill="none" stroke="#111" stroke-width="2.2"/>
<line x1="542.2" y1="892.8" x2="555.3" y2="892.8" stroke="#1a1a1a" stroke-width="1.3"/>
<circle cx="548.75" cy="892.8" r="2.6" fill="#1a1a1a"/>
<text x="557.6" y="896.1" font-size="9.5" font-weight="bold" text-anchor="start" fill="#1a1a1a" >CAP–CB</text>
<line x1="542.2" y1="909.5" x2="555.3" y2="909.5" stroke="#adadad" stroke-width="1.3"/>
<circle cx="548.75" cy="909.5" r="2.6" fill="#adadad"/>
<text x="557.6" y="912.8" font-size="9.5" font-weight="bold" text-anchor="start" fill="#1a1a1a" >CAP</text>
<rect x="58.1" y="673.5" width="559.8" height="263.5" fill="none" stroke="#111" stroke-width="2.3"/>
<line x1="54" y1="684.3" x2="57" y2="684.3" stroke="#555" stroke-width="1"/>
<text x="50" y="688.9" font-size="12.7" font-weight="bold" text-anchor="end" fill="#1a1a1a" >0.2</text>
<line x1="54" y1="744.8" x2="57" y2="744.8" stroke="#555" stroke-width="1"/>
<text x="50" y="749.4" font-size="12.7" font-weight="bold" text-anchor="end" fill="#1a1a1a" >0.0</text>
<line x1="54" y1="805.2" x2="57" y2="805.2" stroke="#555" stroke-width="1"/>
<text x="50" y="809.8" font-size="12.7" font-weight="bold" text-anchor="end" fill="#1a1a1a" >–0.2</text>
<line x1="54" y1="865.6" x2="57" y2="865.6" stroke="#555" stroke-width="1"/>
<text x="50" y="870.2" font-size="12.7" font-weight="bold" text-anchor="end" fill="#1a1a1a" >–0.4</text>
<line x1="54" y1="926.1" x2="57" y2="926.1" stroke="#555" stroke-width="1"/>
<text x="50" y="930.7" font-size="12.7" font-weight="bold" text-anchor="end" fill="#1a1a1a" >–0.6</text>
<line x1="90.6" y1="938.1" x2="90.6" y2="941.1" stroke="#555" stroke-width="1"/>
<text x="90.6" y="953.4" font-size="12.7" font-weight="bold" text-anchor="middle" fill="#1a1a1a" >2001</text>
<line x1="161.22" y1="938.1" x2="161.22" y2="941.1" stroke="#555" stroke-width="1"/>
<text x="161.22" y="953.4" font-size="12.7" font-weight="bold" text-anchor="middle" fill="#1a1a1a" >2003</text>
<line x1="231.84" y1="938.1" x2="231.84" y2="941.1" stroke="#555" stroke-width="1"/>
<text x="231.84" y="953.4" font-size="12.7" font-weight="bold" text-anchor="middle" fill="#1a1a1a" >2005</text>
<line x1="302.46" y1="938.1" x2="302.46" y2="941.1" stroke="#555" stroke-width="1"/>
<text x="302.46" y="953.4" font-size="12.7" font-weight="bold" text-anchor="middle" fill="#1a1a1a" >2007</text>
<line x1="373.08" y1="938.1" x2="373.08" y2="941.1" stroke="#555" stroke-width="1"/>
<text x="373.08" y="953.4" font-size="12.7" font-weight="bold" text-anchor="middle" fill="#1a1a1a" >2009</text>
<line x1="443.7" y1="938.1" x2="443.7" y2="941.1" stroke="#555" stroke-width="1"/>
<text x="443.7" y="953.4" font-size="12.7" font-weight="bold" text-anchor="middle" fill="#1a1a1a" >2011</text>
<line x1="514.32" y1="938.1" x2="514.32" y2="941.1" stroke="#555" stroke-width="1"/>
<text x="514.32" y="953.4" font-size="12.7" font-weight="bold" text-anchor="middle" fill="#1a1a1a" >2013</text>
<line x1="584.94" y1="938.1" x2="584.94" y2="941.1" stroke="#555" stroke-width="1"/>
<text x="584.94" y="953.4" font-size="12.7" font-weight="bold" text-anchor="middle" fill="#1a1a1a" >2015</text>
<text x="338" y="973.5" font-size="19" font-weight="bold" text-anchor="middle" fill="#1a1a1a" >year</text>
<text transform="translate(14.3,805.1) rotate(-90)" font-size="19" font-weight="bold" text-anchor="middle" fill="#1a1a1a">F<tspan font-size="13" dy="3.6">IS</tspan></text>
</svg></body></html>
